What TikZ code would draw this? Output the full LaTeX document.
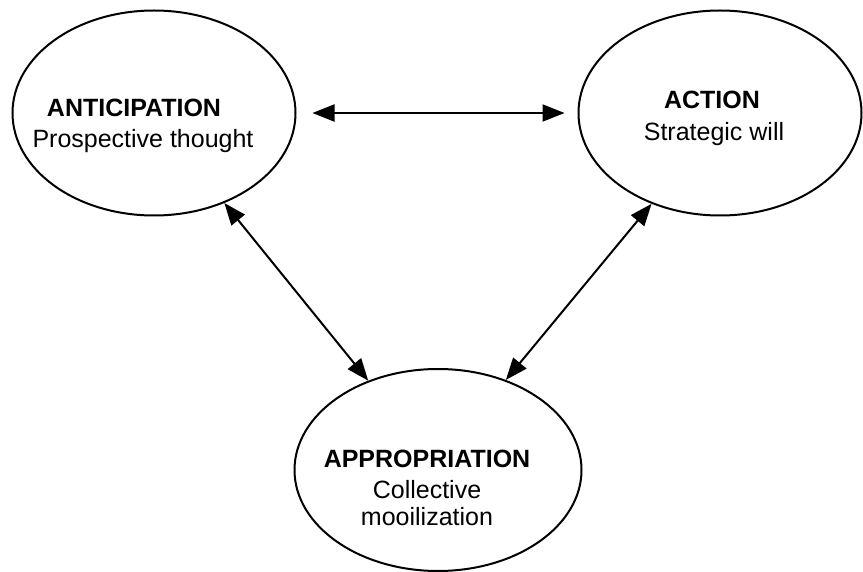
\documentclass[tikz,border=0pt]{standalone}
\usepackage{fontspec}
\setmainfont{Liberation Sans}
\usetikzlibrary{arrows.meta,shapes.geometric}
\newcommand{\phaseFont}{\fontsize{25}{30}\selectfont}
\newcommand{\tipLen}{22pt}
\newcommand{\tipWid}{17pt}

\begin{document}
\begin{tikzpicture}[x=1pt, y=-1pt, every node/.style={font=\phaseFont, inner sep=0pt},
		phase/.style={draw, ellipse, line width=2pt, minimum width=283pt, minimum height=205pt},
		title/.style={anchor=base, font=\phaseFont\bfseries},
		link/.style={{Triangle[length=\tipLen,width=\tipWid]}-{Triangle[length=\tipLen,width=\tipWid]}, line width=2pt}]
	\useasboundingbox (0,0) rectangle (863,572);
	% the three phases
	\node[phase] (ant) at (154,113) {};
	\node[phase] (act) at (720,113) {};
	\node[phase, minimum width=287pt, minimum height=202pt] (app) at (438,470) {};
	\node[title] (antTitle) at (134,117) {ANTICIPATION};
	\node[anchor=base] (antText) at (143,148) {Prospective thought};
	\node[title] (actTitle) at (712,109) {ACTION};
	\node[anchor=base] (actText) at (714,141) {Strategic will};
	\node[title] (appTitle) at (427,467) {APPROPRIATION};
	\node[anchor=base] (appText) at (427,498) {Collective};
	\node[anchor=base] (appText2) at (427,525) {mooilization};
	% links
	\draw[link] ([xshift=16pt]ant.east) -- ([xshift=-13pt]act.west);
	\draw[link] (ant.-52) -- (app.128);
	\draw[link] (act.233) -- (app.53);
\end{tikzpicture}
\end{document}
